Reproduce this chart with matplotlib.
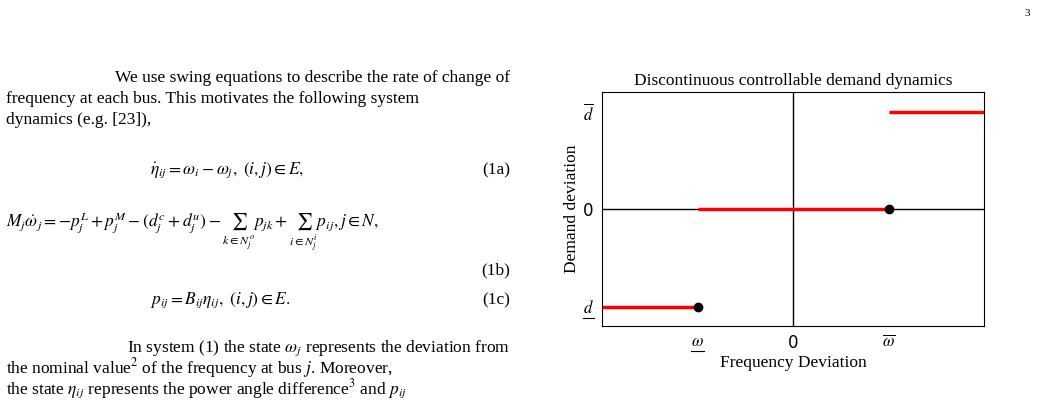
import matplotlib
matplotlib.use("Agg")
import matplotlib.pyplot as plt
from matplotlib.lines import Line2D

plt.rcParams['mathtext.fontset'] = 'stix'
plt.rcParams['font.family'] = ['Liberation Serif', 'DejaVu Serif']

# data
seg_x = [[-2, -1], [-1, 1], [1, 2]]
seg_y = [-1, 0, 1]
dot_x = [-1, 1]
dot_y = [-1, 0]
xticks = [-1, 0, 1]
xticklabels = [r'$\omega$', '0', r'$\overline{\omega}$']
yticks = [-1, 0, 1]
yticklabels = [r'$d$', '0', r'$\overline{d}$']

W, H = 1041, 404
fig = plt.figure(figsize=(W/100, H/100), dpi=100)

def T(x, y, s, ha='left', size=12.5, **kw):
    fig.text(x/W, 1 - y/H, s, ha=ha, va='baseline', fontsize=size, **kw)

def UL(x0, x1, y):
    fig.add_artist(Line2D([x0/W, x1/W], [1-y/H, 1-y/H], color='black', lw=0.8))

T(1030, 16, '3', ha='right', size=8)
T(510, 82, 'We use swing equations to describe the rate of change of', ha='right')
T(6, 103, 'frequency at each bus. This motivates the following system')
T(6, 124, 'dynamics (e.g. [23]),')
T(150, 174, r'$\dot{\eta}_{ij} = \omega_i - \omega_j,\ (i,j) \in E,$')
T(510, 174, '(1a)', ha='right')
T(6, 227, r'$M_j\dot{\omega}_j = -p_j^L + p_j^M - (d_j^c + d_j^u) - \sum_{k\in N_j^o} p_{jk} + \sum_{i\in N_j^i} p_{ij}, j\in N,$')
T(510, 274, '(1b)', ha='right')
T(150, 304, r'$p_{ij} = B_{ij}\eta_{ij},\ (i,j) \in E.$')
T(510, 304, '(1c)', ha='right')
T(510, 352, r'In system (1) the state $\omega_j$ represents the deviation from', ha='right')
T(6, 373, r'the nominal value$^2$ of the frequency at bus $j$. Moreover,')
T(6, 394, r'the state $\eta_{ij}$ represents the power angle difference$^3$ and $p_{ij}$')

ax = fig.add_axes([602/W, 1-326/H, (984-602)/W, (326-92)/H])
ax.set_xlim(-2, 2)
ax.set_ylim(-1.2, 1.2)
ax.axhline(0, color='black', lw=1)
ax.axvline(0, color='black', lw=1)
for xs, y in zip(seg_x, seg_y):
    ax.plot(xs, [y, y], color='red', lw=2.5, solid_capstyle='butt')
ax.plot(dot_x, dot_y, 'o', color='black', ms=6, zorder=5)
ax.set_xticks(xticks)
ax.set_xticklabels(xticklabels, fontsize=12)
ax.set_yticks(yticks)
ax.set_yticklabels(yticklabels, fontsize=12)
ax.get_xticklabels()[1].set_family('DejaVu Sans')
ax.get_yticklabels()[1].set_family('DejaVu Sans')
ax.tick_params(length=0, pad=6)
for s in ax.spines.values():
    s.set_linewidth(0.8)
ax.set_title('Discontinuous controllable demand dynamics', fontsize=12.5, pad=5)
ax.set_xlabel('Frequency Deviation', fontsize=12.5, labelpad=2)
ax.set_ylabel('Demand deviation', fontsize=12.5, labelpad=2)

fig.canvas.draw()
r = fig.canvas.get_renderer()
for lab in (ax.get_xticklabels()[0], ax.get_yticklabels()[0]):
    bb = lab.get_window_extent(r)
    fig.add_artist(Line2D([bb.x0/W, bb.x1/W], [(bb.y0-1)/H, (bb.y0-1)/H], color='black', lw=0.8))

fig.savefig('out.png', dpi=100)
